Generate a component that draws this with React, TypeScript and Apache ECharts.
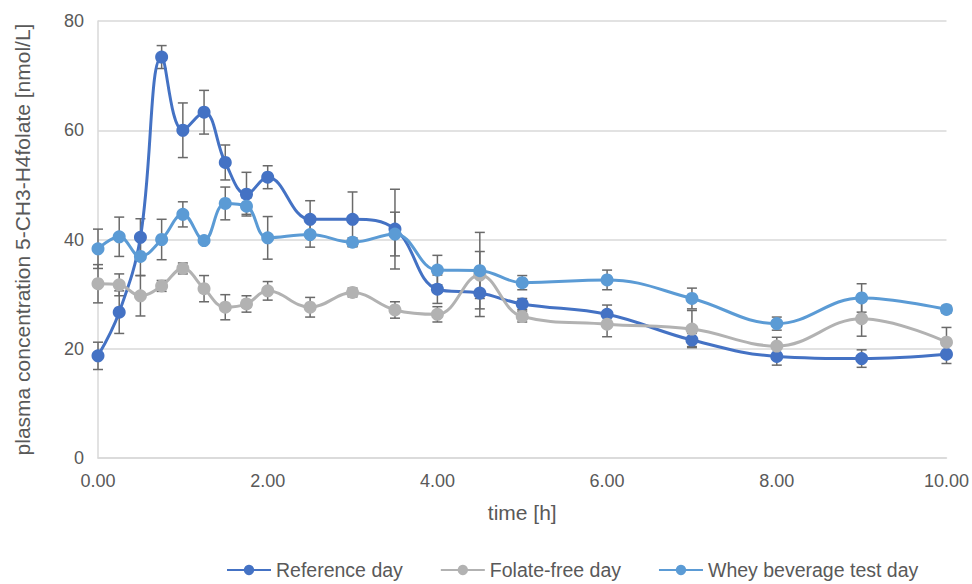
import React, { useEffect, useRef } from "react";
import * as echarts from "echarts";

const times = [0, 0.25, 0.5, 0.75, 1, 1.25, 1.5, 1.75, 2, 2.5, 3, 3.5, 4, 4.5, 5, 6, 7, 8, 9, 10];

const refDay = [18.7, 26.7, 40.4, 73.4, 60.0, 63.3, 54.1, 48.3, 51.4, 43.7, 43.7, 41.9, 30.9, 30.2, 28.2, 26.3, 21.6, 18.6, 18.2, 19.0];
const refErr = [2.5, 3.9, 3.4, 2.1, 5.0, 4.0, 3.2, 4.0, 2.1, 3.4, 5.0, 7.3, 2.6, 4.3, 1.0, 1.7, 1.2, 1.6, 1.6, 1.7];

const folateFree = [31.9, 31.7, 29.7, 31.5, 34.7, 31.0, 27.6, 28.2, 30.6, 27.6, 30.3, 27.1, 26.3, 33.5, 25.9, 24.5, 23.6, 20.5, 25.5, 21.2];
const ffErr = [3.5, 2.0, 3.7, 1.0, 1.0, 2.4, 2.3, 1.5, 1.7, 1.8, 0.8, 1.5, 1.4, 4.3, 1.0, 2.3, 3.4, 1.6, 3.2, 2.7];

const whey = [38.3, 40.5, 36.9, 40.0, 44.6, 39.8, 46.6, 46.1, 40.3, 40.9, 39.5, 41.0, 34.4, 34.3, 32.1, 32.6, 29.2, 24.6, 29.3, 27.2];
const wheyErr = [3.6, 3.6, 3.5, 3.7, 2.3, 0.5, 3.0, 1.5, 3.9, 2.3, 0.8, 4.0, 2.7, 7.0, 1.3, 1.8, 1.9, 1.2, 2.6, 0.7];

const seriesNames = ["Reference day", "Folate-free day", "Whey beverage test day"];
const colors = ["#4472C4", "#B2B2B2", "#5B9BD5"];

const FONT = "Liberation Sans";
const TEXT = "#595959";

function errorSeries(name: string, vals: number[], errs: number[]) {
  return {
    type: "custom",
    name,
    z: 1,
    silent: true,
    encode: { x: 0, y: [1, 2] },
    data: times.map((t, i) => [t, vals[i] - errs[i], vals[i] + errs[i]]),
    renderItem: (params: any, api: any) => {
      const lo = api.coord([api.value(0), api.value(1)]);
      const hi = api.coord([api.value(0), api.value(2)]);
      const style = { stroke: "#6A6A6A", lineWidth: 1.5 };
      const w = 5;
      return {
        type: "group",
        children: [
          { type: "line", shape: { x1: lo[0], y1: lo[1], x2: hi[0], y2: hi[1] }, style },
          { type: "line", shape: { x1: lo[0] - w, y1: lo[1], x2: lo[0] + w, y2: lo[1] }, style },
          { type: "line", shape: { x1: hi[0] - w, y1: hi[1], x2: hi[0] + w, y2: hi[1] }, style },
        ],
      };
    },
  };
}

function lineSeries(name: string, vals: number[], color: string) {
  return {
    type: "line",
    name,
    z: 3,
    data: times.map((t, i) => [t, vals[i]]),
    smooth: 0.4,
    symbol: "circle",
    symbolSize: 13,
    lineStyle: { color, width: 3 },
    itemStyle: { color },
  };
}

export default function App() {
  const ref = useRef<HTMLDivElement>(null);
  useEffect(() => {
    const chart = echarts.init(ref.current!, null, { renderer: "svg" });
    chart.setOption({
      animation: false,
      backgroundColor: "#ffffff",
      grid: { left: 98, right: 24, top: 21, bottom: 126, containLabel: false },
      legend: {
        data: seriesNames,
        left: 221,
        top: 555,
        padding: 5,
        itemWidth: 44,
        itemHeight: 13,
        itemGap: 37,
        textStyle: { fontFamily: FONT, fontSize: 19.5, color: TEXT },
      },
      xAxis: {
        type: "value",
        min: 0,
        max: 10,
        interval: 2,
        name: "time [h]",
        nameLocation: "middle",
        nameGap: 44,
        nameTextStyle: { fontFamily: FONT, fontSize: 21, color: TEXT },
        axisLine: { show: true, lineStyle: { color: "#D9D9D9", width: 1.5 } },
        axisTick: { show: false },
        splitLine: { show: false },
        axisLabel: {
          fontFamily: FONT,
          fontSize: 18,
          color: TEXT,
          margin: 14,
          formatter: (v: number) => v.toFixed(2),
        },
      },
      yAxis: {
        type: "value",
        min: 0,
        max: 80,
        interval: 20,
        name: "plasma concentration 5-CH3-H4folate [nmol/L]",
        nameLocation: "middle",
        nameGap: 65,
        nameTextStyle: { fontFamily: FONT, fontSize: 21, color: TEXT },
        axisLine: { show: true, lineStyle: { color: "#D9D9D9", width: 1.5 } },
        axisTick: { show: false },
        splitLine: { show: true, lineStyle: { color: "#D9D9D9", width: 1.5 } },
        axisLabel: { fontFamily: FONT, fontSize: 18, color: TEXT, margin: 14 },
      },
      series: [
        errorSeries("refErr", refDay, refErr),
        errorSeries("ffErr", folateFree, ffErr),
        errorSeries("wheyErr", whey, wheyErr),
        lineSeries(seriesNames[0], refDay, colors[0]),
        lineSeries(seriesNames[1], folateFree, colors[1]),
        lineSeries(seriesNames[2], whey, colors[2]),
      ],
    });
    return () => chart.dispose();
  }, []);
  return (
    <div
      ref={ref}
      style={{ position: "fixed", left: 0, top: 0, width: 972, height: 584, background: "#fff" }}
    />
  );
}
